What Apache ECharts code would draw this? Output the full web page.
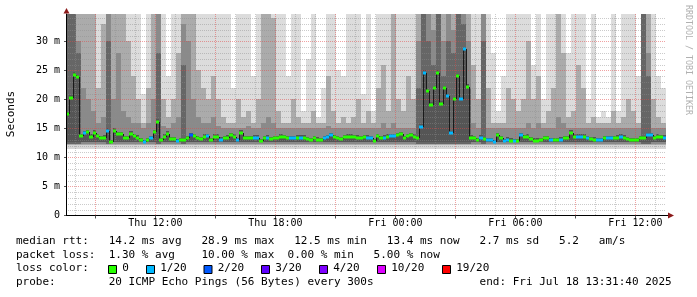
<!DOCTYPE html>
<html><head><meta charset="utf-8">
<script src="https://cdn.jsdelivr.net/npm/echarts@6/dist/echarts.min.js"></script>
<style>html,body{margin:0;padding:0;background:#fff}#c{width:697px;height:297px}</style>
</head><body><div id="c"></div>
<script>
// time in hours since Thu 00:00 (Jul 17 2025); last 30 hours ending Fri 13:31:40
const startH = 7 + 31/60 + 40/3600;
const endH = startH + 30;
const yMax = 34.74;
const medianStepH = 10/60;
const smokeStepH = 0.25;

// median RTT (ms) per 10-minute step
const medianRtt = [17.5,20.3,24.3,23.8,13.7,14.2,14.4,13.6,14.3,13.7,
13.3,13.4,14.6,12.7,14.6,14.0,14.0,13.3,13.3,14.1,
13.7,13.4,13.0,12.7,13.0,13.3,14.4,16.2,13.0,13.6,
14.1,13.2,13.2,12.8,13.0,13.0,13.3,13.8,13.7,13.3,
13.2,13.6,13.7,13.0,13.6,13.6,13.1,13.3,13.4,13.8,
13.6,13.0,14.3,13.3,13.3,13.3,13.4,13.4,12.8,13.3,
13.4,13.2,13.3,13.3,13.6,13.5,13.3,13.3,13.3,13.4,
13.4,13.4,13.2,13.0,13.3,13.1,13.0,13.3,13.5,13.8,
13.5,13.3,13.2,13.5,13.6,13.6,13.5,13.4,13.3,13.5,
13.4,13.3,12.8,13.7,13.3,13.4,13.6,13.7,13.7,13.9,
14.0,13.3,13.7,13.8,13.6,13.3,15.3,24.6,21.4,19.1,
22.0,24.6,19.3,22.0,20.6,14.2,20.0,24.0,20.0,28.7,
22.2,13.4,13.3,13.0,13.4,13.2,13.0,13.0,12.7,13.9,
13.3,12.8,13.1,12.9,12.8,12.8,13.9,13.5,13.6,13.2,
12.9,12.9,13.0,13.3,13.3,13.0,13.0,13.0,13.1,13.3,
13.3,14.3,13.6,13.6,13.6,13.6,13.3,13.2,13.1,13.0,
13.0,13.3,13.3,13.3,13.3,13.4,13.6,13.4,13.2,13.0,
13.0,13.0,13.3,13.3,13.9,13.8,13.3,13.6,13.5,13.4];

// loss class per 10-minute step (index into lossColors)
const lossIdx = [0,0,0,0,0,1,0,0,0,0,
0,0,1,0,0,0,0,0,0,0,
0,0,0,1,0,1,0,0,0,0,
0,0,0,1,0,0,0,2,0,0,
0,0,1,0,0,0,1,0,0,0,
0,1,0,0,0,0,1,1,0,0,
1,0,0,0,0,0,0,1,1,0,
1,0,0,0,0,0,0,1,1,1,
0,0,0,0,0,0,0,0,0,0,
1,1,0,0,0,1,0,1,1,0,
0,0,0,0,0,0,1,1,0,0,
0,0,0,0,1,1,0,0,1,1,
0,0,0,0,1,0,1,1,1,0,
0,1,1,0,1,0,1,0,0,0,
0,0,0,0,0,1,0,0,1,0,
0,0,0,1,1,0,1,0,0,1,
1,0,1,1,0,0,1,0,0,0,
0,0,0,0,1,1,0,0,0,1];

// smoke extents (ms) per 15-minute step: light, medium, dark, deepest layers
const smokeLight = [35,35,35,35,35,35,35,35,35,35,
35,35,35,35,35,21,35,35,35,35,
24,35,35,35,35,35,35,35,35,35,
35,35,35,22,35,35,35,24,35,35,
35,35,35,35,24,35,35,18,27,35,
17,22,35,35,25,24,35,35,35,21,
35,18,35,35,35,35,35,35,35,35,
35,35,35,35,35,35,35,35,35,35,
35,35,35,35,35,28,18,24,35,35,
35,35,35,26,35,20,35,35,35,35,
28,35,35,35,20,35,17,18,17,35,
18,35,35,35,24,35,35,35,24,22];
const smokeMid = [35,35,35,35,35,35,22,33,35,35,
35,35,30,24,20,16,22,35,35,20,
17,20,28,35,35,35,25,22,20,24,
20,17,16,16,20,17,18,16,20,35,
35,34,18,16,16,20,17,16,16,18,
16,16,24,18,16,17,16,17,20,16,
18,16,22,26,18,35,20,18,24,20,
35,35,35,35,35,35,35,35,35,35,
35,26,20,35,22,16,16,16,22,20,
18,20,30,20,24,16,18,22,35,28,
17,18,26,22,16,17,16,16,16,18,
16,17,20,18,16,35,35,20,17,16];
const smokeDark = [35,35,30,22,20,18,16,17,35,20,
28,18,17,16,16,15,16,20,35,15.5,
15,16,17,33,30,20,17,16,16,17,
15.5,15,15,15,15,15,15.5,15,15,16,
17,16,15,15,15,15,15,15,15,15,
15,15,15.5,15,15,15,15,15,15,15,
15,15,15,16,15,16,15,15,15,15,
30,35,35,32,35,30,35,32,35,35,
30,16,15,35,15,15,15,15,15,15,
15,15,16,15,16,15,15,15,17,16,
15,15,15,15,15,15,15,15,15,15,
15,15,15,15,15,30,28,15,15,15];
const smokeDeep = [35,35,28,0,0,0,0,0,30,0,
0,0,0,0,0,0,0,0,28,0,
0,0,0,26,0,0,0,0,0,0,
0,0,0,0,0,0,0,0,0,0,
0,0,0,0,0,0,0,0,0,0,
0,0,0,0,0,0,0,0,0,0,
0,0,0,0,0,0,0,0,0,0,
22,35,30,26,35,24,30,28,35,33,
22,0,0,30,0,0,0,0,0,0,
0,0,0,0,0,0,0,0,0,0,
0,0,0,0,0,0,0,0,0,0,
0,0,0,0,0,35,24,0,0,0];

const xLabelHours = [12,18,24,30,36];
const xLabelText = ['Thu 12:00','Thu 18:00','Fri 00:00','Fri 06:00','Fri 12:00'];
const xMajorHours = [9,12,15,18,21,24,27,30,33,36];
const xGridHours = [8,9,10,11,12,13,14,15,16,17,18,19,20,21,22,23,24,25,26,27,28,29,30,31,32,33,34,35,36,37];
const yTicks = [0,5,10,15,20,25,30];
const yGrid = [1,2,3,4,5,6,7,8,9,10,11,12,13,14,15,16,17,18,19,20,21,22,23,24,25,26,27,28,29,30,31,32,33,34];

const lossColors = ['#26ff00','#00b8ff','#0059ff','#5e00ff','#7e00ff','#dd00ff','#ff0000'];
const lossLabels = ['0','1/20','2/20','3/20','4/20','10/20','19/20'];

const legendLines = [
  'median rtt:   14.2 ms avg   28.9 ms max   12.5 ms min   13.4 ms now   2.7 ms sd   5.2   am/s',
  'packet loss:  1.30 % avg    10.00 % max  0.00 % min   5.00 % now',
  'loss color:',
  'probe:        20 ICMP Echo Pings (56 Bytes) every 300s                end: Fri Jul 18 13:31:40 2025'
];

const MONO = '"DejaVu Sans Mono", monospace';

function rectBetween(api, t0, t1, lo, hi, fill) {
  const a = api.coord([t0, Math.min(hi, yMax)]);
  const b = api.coord([t1, Math.max(lo, 0)]);
  const x0 = Math.round(a[0]), x1 = Math.round(b[0]);
  const y0 = Math.round(a[1]), y1 = Math.round(b[1]);
  return {type:'rect', shape:{x:x0, y:y0, width:x1-x0, height:Math.max(y1-y0,0)}, style:{fill}};
}

const smokeData = smokeLight.map((v,j)=>[startH+j*smokeStepH, startH+(j+1)*smokeStepH, v, smokeMid[j], smokeDark[j], smokeDeep[j]]);
const medData = medianRtt.map((m,k)=>[startH+k*medianStepH, Math.min(startH+(k+1)*medianStepH, endH), m, lossIdx[k], k>0?medianRtt[k-1]:m]);

const chart = echarts.init(document.getElementById('c'), null, {renderer:'canvas'});

const graphics = [];
const lineY = [241, 254.7, 268.5, 282.2];
legendLines.forEach((t,i)=>{
  graphics.push({type:'text', x:16, y:lineY[i], style:{text:t, font:'11px '+MONO, fill:'#000', verticalAlign:'middle', align:'left'}});
});
const boxX = [108, 146, 203.5, 261, 319, 377, 442];
lossColors.forEach((c,i)=>{
  graphics.push({type:'rect', shape:{x:boxX[i]+0.5, y:265.5, width:8, height:8}, style:{fill:c, stroke:'#000', lineWidth:1}});
  graphics.push({type:'text', x:boxX[i]+14.2, y:lineY[2], style:{text:lossLabels[i], font:'11px '+MONO, fill:'#000', verticalAlign:'middle', align:'left'}});
});
graphics.push({type:'text', x:11, y:114, rotation:Math.PI/2, style:{text:'Seconds', font:'11px '+MONO, fill:'#000', align:'center', verticalAlign:'middle'}});
graphics.push({type:'text', x:688.5, y:60, rotation:-Math.PI/2, style:{text:'RRDTOOL / TOBI OETIKER', font:'8.3px '+MONO, fill:'#b0b0b0', align:'center', verticalAlign:'middle'}});
// axis arrows
graphics.push({type:'polygon', shape:{points:[[63.5,13.5],[69.5,13.5],[66.5,8]]}, style:{fill:'#8b1a1a'}, z:20});
graphics.push({type:'line', shape:{x1:666, y1:215.5, x2:668, y2:215.5}, style:{stroke:'#000', lineWidth:1}, z:20});
graphics.push({type:'polygon', shape:{points:[[668,212.5],[668,218.5],[674,215.5]]}, style:{fill:'#8b1a1a'}, z:20});

chart.setOption({
  animation:false,
  backgroundColor:'#ffffff',
  grid:{left:66, top:14, width:600, height:201.5},
  xAxis:{type:'value', min:startH, max:endH, z:10,
    axisLine:{show:true, lineStyle:{color:'#000', width:1}},
    axisTick:{show:true, customValues:xMajorHours, length:3, lineStyle:{color:'#555'}},
    axisLabel:{customValues:xLabelHours, margin:3, fontFamily:'DejaVu Sans Mono', fontSize:10, color:'#000',
      formatter:(v)=>{const i=xLabelHours.findIndex(h=>Math.abs(h-v)<1e-6); return i>=0?xLabelText[i]:'';}},
    splitLine:{show:false}},
  yAxis:{type:'value', min:0, max:yMax, z:10,
    axisLine:{show:true, lineStyle:{color:'#000', width:1}},
    axisTick:{show:true, customValues:yTicks, length:2, lineStyle:{color:'#555'}},
    axisLabel:{customValues:yTicks, margin:6, fontFamily:'DejaVu Sans Mono', fontSize:10, color:'#000',
      formatter:(v)=> v===0 ? '0' : (v + ' m')},
    splitLine:{show:false}},
  graphic: graphics,
  series:[
    {type:'custom', name:'smoke', z:1, clip:true, silent:true, data:smokeData,
      encode:{x:[0,1], y:[2,3,4,5]},
      renderItem:(params, api)=>{
        const t0=api.value(0), t1=api.value(1);
        const ch = [
          rectBetween(api,t0,t1,11.5,12.1,'#d6d6d6'),
          rectBetween(api,t0,t1,12.1,api.value(2),'#dcdcdc'),
          rectBetween(api,t0,t1,12.1,api.value(3),'#ababab'),
          rectBetween(api,t0,t1,12.3,api.value(4),'#8a8a8a')
        ];
        if (api.value(5) > 0) ch.push(rectBetween(api,t0,t1,12.3,api.value(5),'#666666'));
        return {type:'group', children:ch};
      }},
    {type:'custom', name:'core', z:2, clip:true, silent:true, data:medData,
      encode:{x:[0,1], y:2},
      renderItem:(params, api)=>{
        const t0=api.value(0), t1=api.value(1), m=api.value(2);
        return rectBetween(api,t0,t1,12.6,m+0.4,'#555555');
      }},
    {type:'custom', name:'vgrid', z:3, clip:true, silent:true, data:xGridHours.map(h=>[h, xMajorHours.indexOf(h)>=0?1:0]),
      encode:{x:0},
      renderItem:(params, api)=>{
        const h=api.value(0), major=api.value(1);
        const a=api.coord([h,0]), b=api.coord([h,yMax]);
        const x=Math.round(a[0])+0.5;
        return {type:'line', shape:{x1:x,y1:b[1],x2:x,y2:a[1]}, style:{stroke: major?'rgba(225,70,70,0.5)':'rgba(140,140,140,0.45)', lineWidth:1, lineDash:[1,1]}};
      }},
    {type:'custom', name:'hgrid', z:3, clip:true, silent:true, data:yGrid.map(v=>[startH, v, v%5===0?1:0]),
      encode:{y:1},
      renderItem:(params, api)=>{
        const v=api.value(1), major=api.value(2);
        const a=api.coord([startH,v]), b=api.coord([endH,v]);
        const y=Math.round(a[1])+0.5;
        return {type:'line', shape:{x1:a[0],y1:y,x2:b[0],y2:y}, style:{stroke: major?'rgba(225,70,70,0.5)':'rgba(140,140,140,0.45)', lineWidth:1, lineDash:[1,1]}};
      }},
    {type:'custom', name:'median', z:4, clip:true, silent:true, data:medData,
      encode:{x:[0,1], y:2},
      renderItem:(params, api)=>{
        const t0=api.value(0), t1=api.value(1), m=api.value(2), li=api.value(3), pm=api.value(4);
        const a=api.coord([t0,m]), b=api.coord([t1,m]), p=api.coord([t0,pm]);
        const x0=Math.round(a[0]), x1=Math.round(b[0]), yc=Math.round(a[1]);
        const children=[];
        if (Math.abs(p[1]-a[1])>1.5) {
          children.push({type:'line', shape:{x1:x0+0.5,y1:Math.round(p[1]),x2:x0+0.5,y2:yc}, style:{stroke:'#1a1a1a', lineWidth:1}});
        }
        children.push({type:'rect', shape:{x:x0, y:yc-1.5, width:x1-x0, height:3}, style:{fill:lossColors[li]}});
        return {type:'group', children};
      }}
  ]
});
</script></body></html>
